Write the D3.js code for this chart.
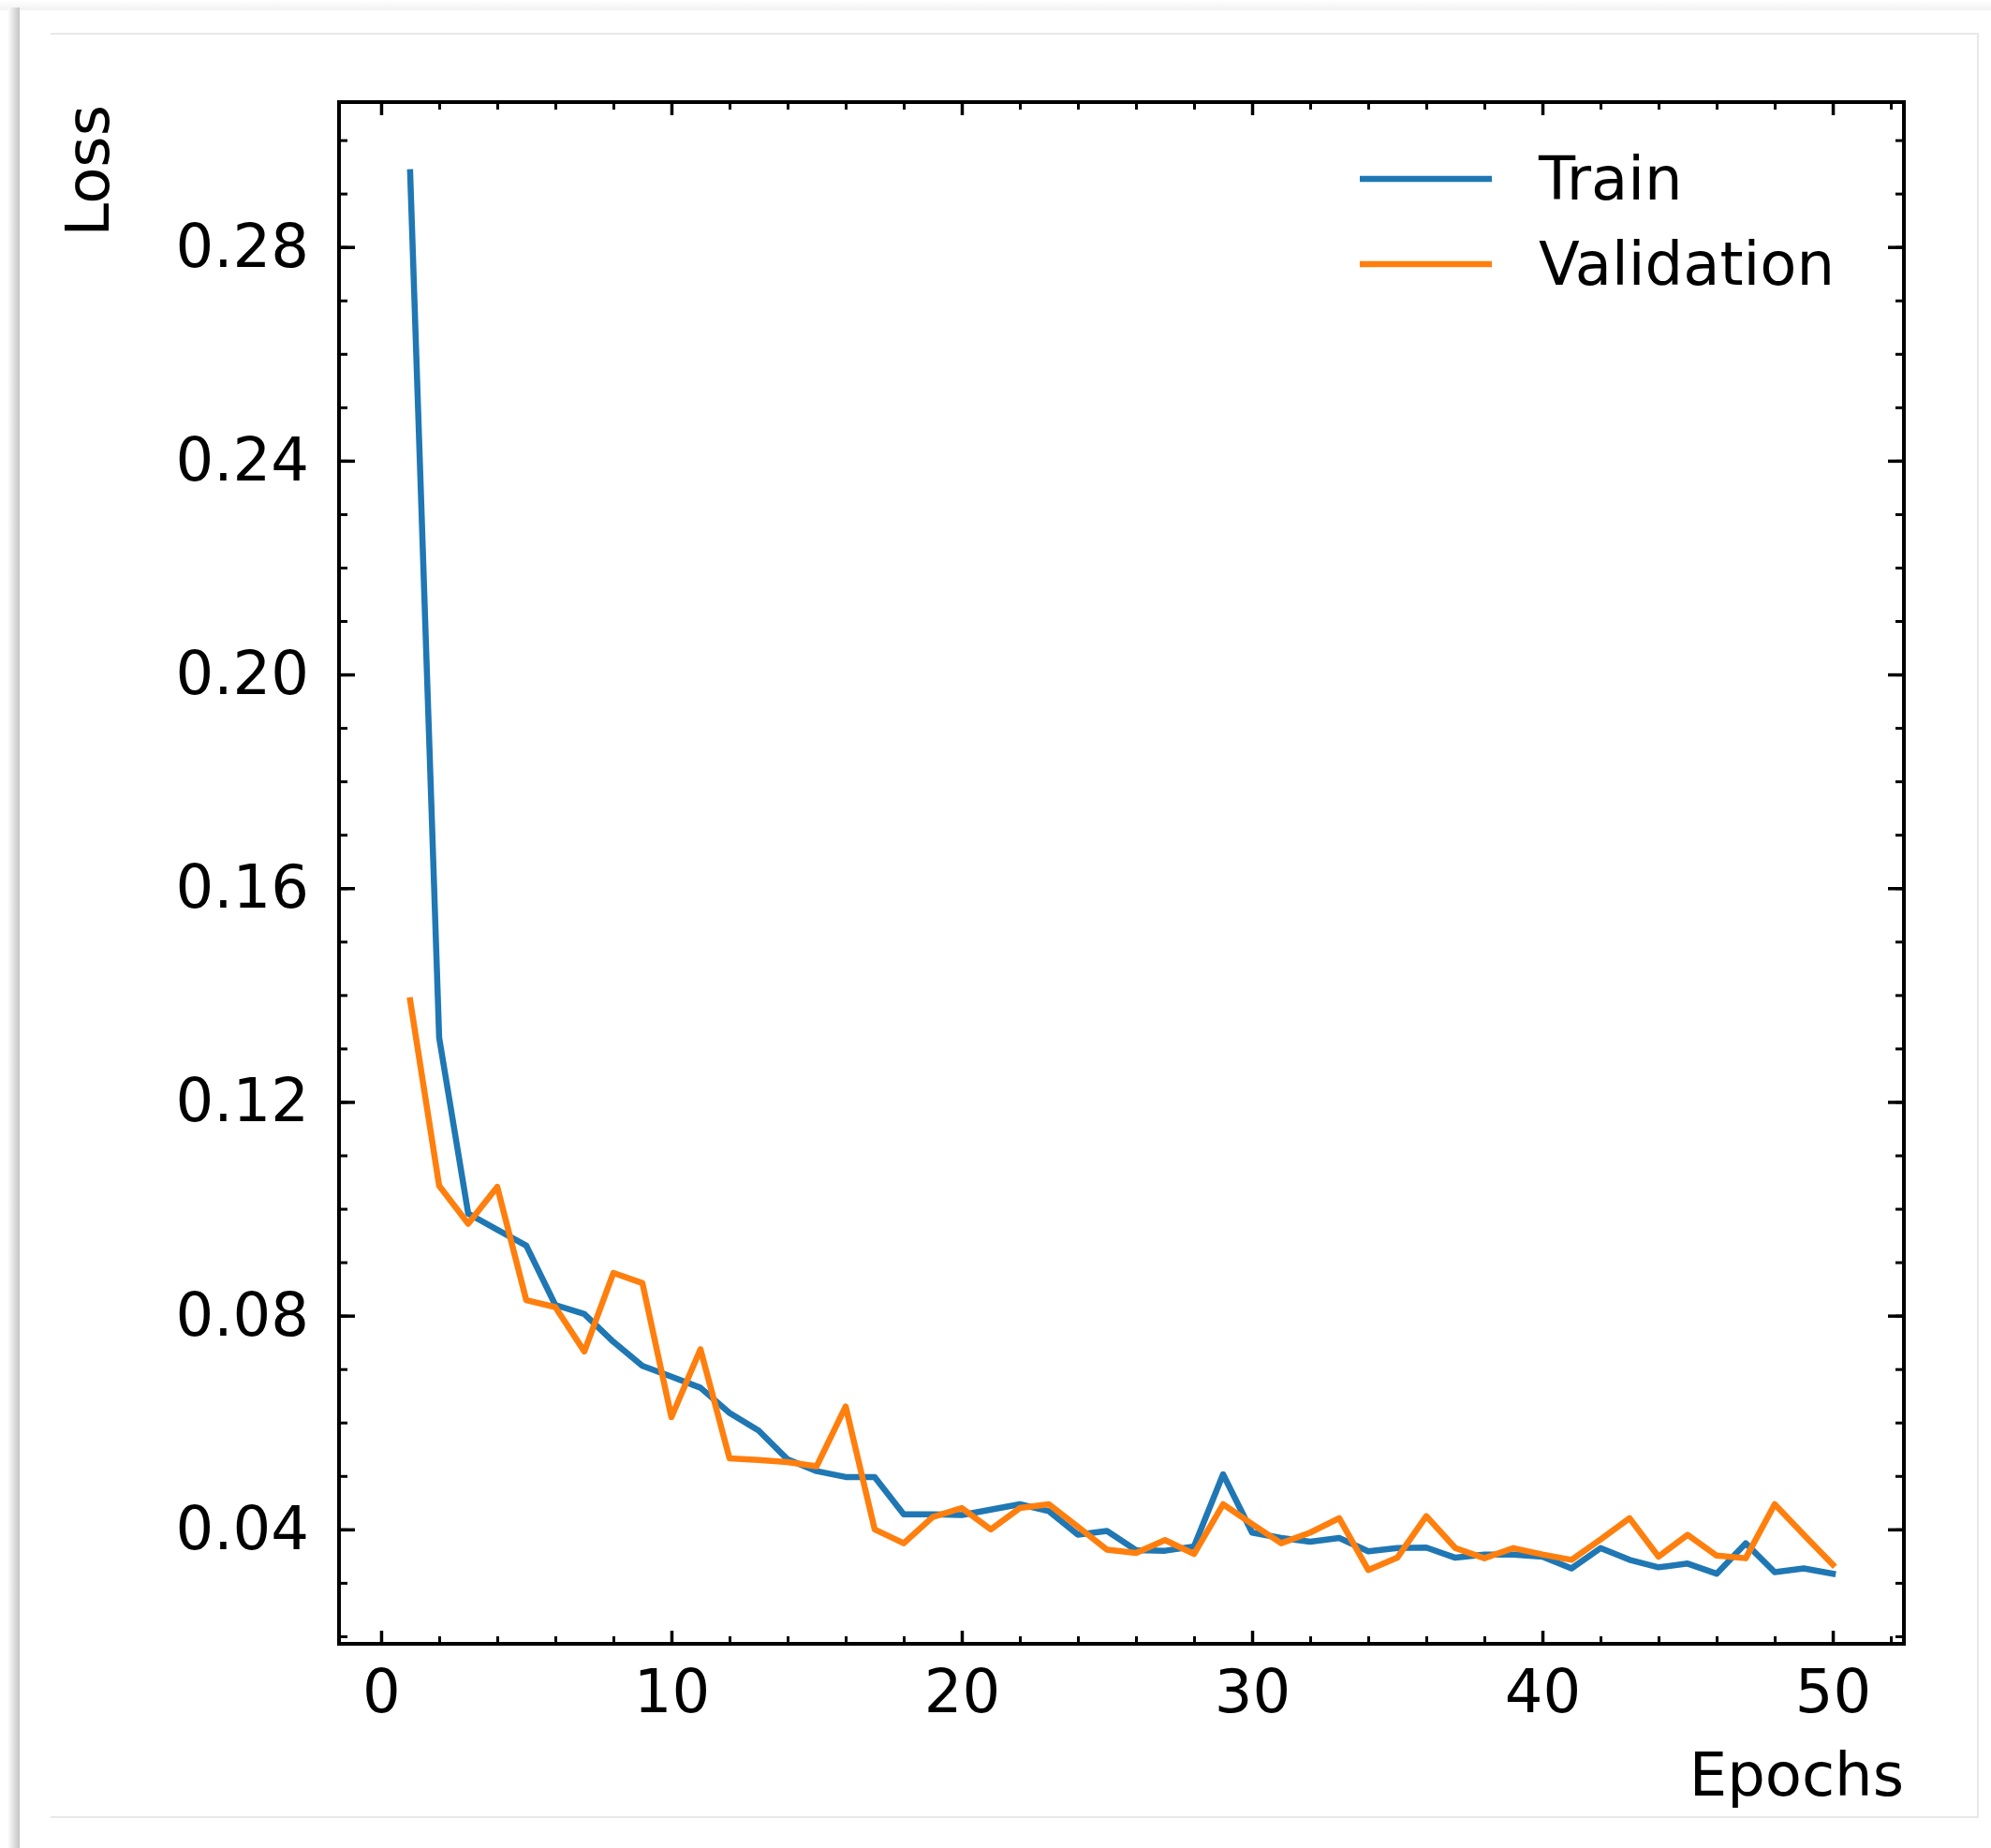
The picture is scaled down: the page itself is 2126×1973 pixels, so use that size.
<!DOCTYPE html>
<html>
<head>
<meta charset="utf-8">
<script src="https://cdn.jsdelivr.net/npm/d3@7"></script>
<style>
  body { margin: 0; background: #ffffff; }
  text { font-family: "DejaVu Sans", sans-serif; }
</style>
</head>
<body>
<div id="chart"></div>
<script>
// epochs 1..50
let epochs = d3.range(1, 51);

let trainLoss = [0.294, 0.132, 0.0991, 0.0961, 0.0931, 0.0820, 0.0803, 0.0751, 0.0706, 0.0686,
                 0.0665, 0.0618, 0.0585, 0.0531, 0.0509, 0.0498, 0.0498, 0.0428, 0.0428, 0.0427,
                 0.0437, 0.0447, 0.0434, 0.0390, 0.0397, 0.0361, 0.0360, 0.0368, 0.0503, 0.0394,
                 0.0384, 0.0377, 0.0384, 0.0359, 0.0365, 0.0366, 0.0347, 0.0353, 0.0353, 0.0349,
                 0.0327, 0.0365, 0.0343, 0.0329, 0.0336, 0.0317, 0.0374, 0.0320, 0.0327, 0.0317];

let valLoss = [0.139, 0.1043, 0.0972, 0.1041, 0.0829, 0.0816, 0.0733, 0.0880, 0.0861, 0.0610,
               0.0737, 0.0533, 0.0530, 0.0526, 0.0518, 0.0630, 0.0400, 0.0374, 0.0423, 0.0440,
               0.0400, 0.0440, 0.0447, 0.0405, 0.0362, 0.0356, 0.0380, 0.0354, 0.0447, 0.0410,
               0.0374, 0.0394, 0.0421, 0.0324, 0.0347, 0.0425, 0.0365, 0.0346, 0.0365, 0.0353,
               0.0343, 0.0381, 0.0421, 0.0349, 0.0390, 0.0351, 0.0346, 0.0447, 0.0390, 0.0334];

let seriesNames = ["Train", "Validation"];
let seriesColors = ["#1f77b4", "#ff7f0e"];

let xMajorTicks = [0, 10, 20, 30, 40, 50];
let xMinorTicks = d3.range(2, 53, 2).filter(d => d % 10 !== 0);
let yMajorTicks = [0.04, 0.08, 0.12, 0.16, 0.20, 0.24, 0.28];
let yMinorTicks = d3.range(2, 31).map(d => d / 100).filter(d => d % 4 !== 0);

const W = 2126, H = 1973;
const plotLeft = 362, plotRight = 2033, plotTop = 109, plotBottom = 1755;
const fontSize = 64;

let svg = d3.select("#chart").append("svg")
    .attr("width", W).attr("height", H);

// page frame (screenshot card)
let defs = svg.append("defs");
let grad = defs.append("linearGradient").attr("id", "shadow").attr("x1", "0").attr("x2", "1");
grad.append("stop").attr("offset", "0").attr("stop-color", "#ffffff");
grad.append("stop").attr("offset", "1").attr("stop-color", "#c4c4c4");
let gradTop = defs.append("linearGradient").attr("id", "topband").attr("x1", "0").attr("x2", "0").attr("y1", "0").attr("y2", "1");
gradTop.append("stop").attr("offset", "0").attr("stop-color", "#ffffff");
gradTop.append("stop").attr("offset", "1").attr("stop-color", "#f2f2f2");

svg.append("rect").attr("x", 0).attr("y", 0).attr("width", W).attr("height", 11).attr("fill", "url(#topband)");
svg.append("rect").attr("x", 8).attr("y", 8).attr("width", 13).attr("height", H - 8).attr("fill", "url(#shadow)");
// card border: top, right and bottom only
svg.append("path")
    .attr("d", "M54,36 H2112 V1940 H54")
    .attr("fill", "none").attr("stroke", "#e8e8e8").attr("stroke-width", 2);

// scales, with matplotlib style 5% margins
let xExt = d3.extent(epochs);
let xPad = (xExt[1] - xExt[0]) * 0.05;
let x = d3.scaleLinear().domain([xExt[0] - xPad, xExt[1] + xPad]).range([plotLeft, plotRight]);

let yExt = d3.extent(trainLoss.concat(valLoss));
let yPad = (yExt[1] - yExt[0]) * 0.05;
let y = d3.scaleLinear().domain([yExt[0] - yPad, yExt[1] + yPad]).range([plotBottom, plotTop]);

function styleAxis(g, width)
{
    g.select(".domain").remove();
    g.selectAll(".tick line").attr("stroke", "#000").attr("stroke-width", width);
    g.selectAll("text").attr("font-size", fontSize).attr("fill", "#000")
        .attr("font-family", "DejaVu Sans, sans-serif");
}

// bottom
svg.append("g").attr("transform", `translate(0,${plotBottom})`)
    .call(d3.axisBottom(x).tickValues(xMajorTicks).tickSize(-14).tickPadding(28).tickFormat(d3.format("d")))
    .call(g => styleAxis(g, 3.5));
svg.append("g").attr("transform", `translate(0,${plotBottom})`)
    .call(d3.axisBottom(x).tickValues(xMinorTicks).tickSize(-8).tickFormat(""))
    .call(g => styleAxis(g, 3));
// top
svg.append("g").attr("transform", `translate(0,${plotTop})`)
    .call(d3.axisTop(x).tickValues(xMajorTicks).tickSize(-14).tickFormat(""))
    .call(g => styleAxis(g, 3.5));
svg.append("g").attr("transform", `translate(0,${plotTop})`)
    .call(d3.axisTop(x).tickValues(xMinorTicks).tickSize(-8).tickFormat(""))
    .call(g => styleAxis(g, 3));
// left
svg.append("g").attr("transform", `translate(${plotLeft},0)`)
    .call(d3.axisLeft(y).tickValues(yMajorTicks).tickSize(-17).tickPadding(32).tickFormat(d3.format(".2f")))
    .call(g => styleAxis(g, 3.5));
svg.append("g").attr("transform", `translate(${plotLeft},0)`)
    .call(d3.axisLeft(y).tickValues(yMinorTicks).tickSize(-9).tickFormat(""))
    .call(g => styleAxis(g, 3));
// right
svg.append("g").attr("transform", `translate(${plotRight},0)`)
    .call(d3.axisRight(y).tickValues(yMajorTicks).tickSize(-17).tickFormat(""))
    .call(g => styleAxis(g, 3.5));
svg.append("g").attr("transform", `translate(${plotRight},0)`)
    .call(d3.axisRight(y).tickValues(yMinorTicks).tickSize(-9).tickFormat(""))
    .call(g => styleAxis(g, 3));

// lines
let line = d3.line().x((d, i) => x(epochs[i])).y(d => y(d));
[trainLoss, valLoss].forEach(function(series, i) {
    svg.append("path")
        .datum(series)
        .attr("d", line)
        .attr("fill", "none")
        .attr("stroke", seriesColors[i])
        .attr("stroke-width", 6.5)
        .attr("stroke-linejoin", "round")
        .attr("stroke-linecap", "square");
});

// frame
svg.append("rect")
    .attr("x", plotLeft).attr("y", plotTop)
    .attr("width", plotRight - plotLeft).attr("height", plotBottom - plotTop)
    .attr("fill", "none").attr("stroke", "#000").attr("stroke-width", 4);

// axis labels
svg.append("text")
    .attr("x", plotRight).attr("y", 1917)
    .attr("text-anchor", "end")
    .attr("font-size", fontSize)
    .text("Epochs");

svg.append("text")
    .attr("transform", `translate(116,${plotTop + 3}) rotate(-90)`)
    .attr("text-anchor", "end")
    .attr("font-size", fontSize)
    .text("Loss");

// legend
let legend = svg.append("g");
seriesNames.forEach(function(name, i) {
    let ly = 191 + i * 91;
    legend.append("line")
        .attr("x1", 1452).attr("x2", 1593)
        .attr("y1", ly).attr("y2", ly)
        .attr("stroke", seriesColors[i]).attr("stroke-width", 6.5);
    legend.append("text")
        .attr("x", 1643).attr("y", ly + 22)
        .attr("font-size", fontSize)
        .text(name);
});
</script>
</body>
</html>
